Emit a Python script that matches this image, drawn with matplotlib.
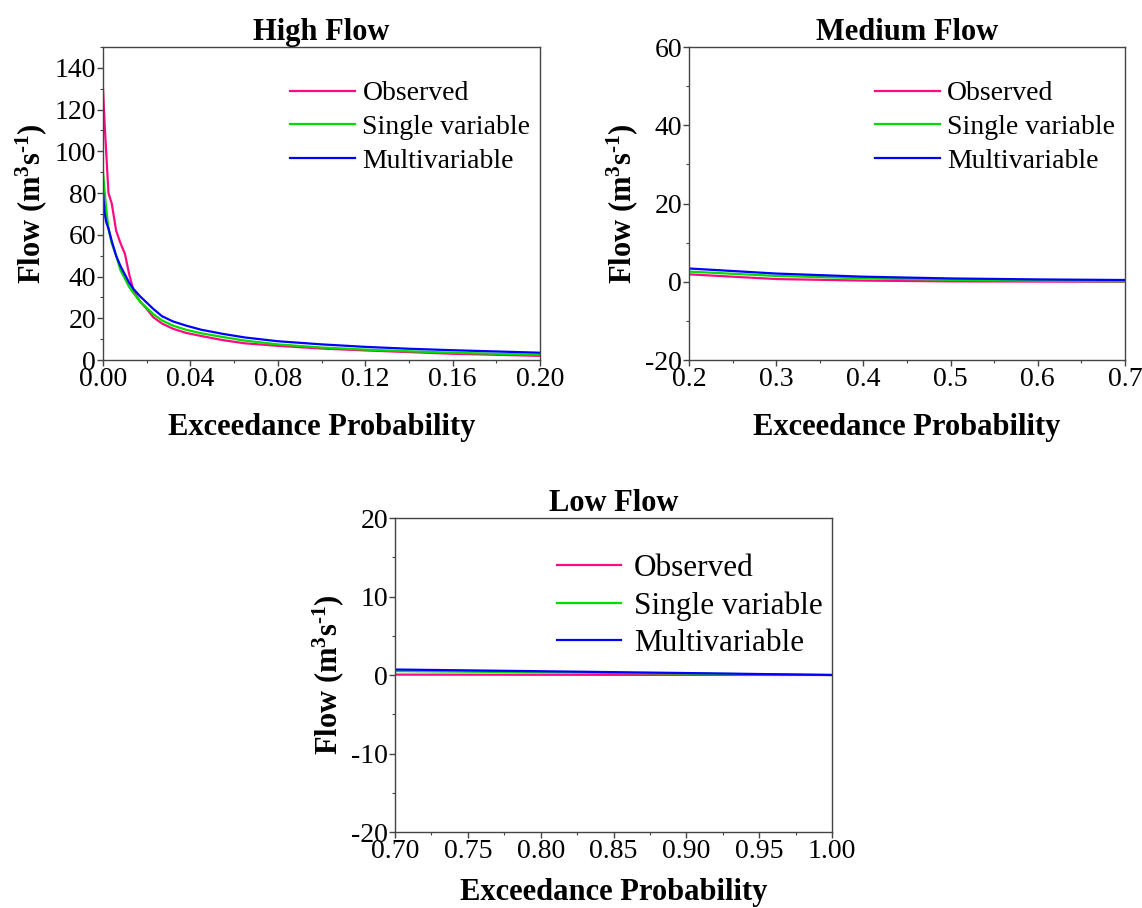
import matplotlib
matplotlib.use('Agg')
import matplotlib.pyplot as plt
import matplotlib.ticker as ticker

plt.rcParams['font.family'] = ['Liberation Serif', 'DejaVu Serif']
plt.rcParams['axes.unicode_minus'] = False
plt.rcParams['mathtext.fontset'] = 'custom'
plt.rcParams['mathtext.rm'] = 'Liberation Serif'
plt.rcParams['mathtext.bf'] = 'Liberation Serif:bold'

# high flow (exceedance 0 - 0.2)
high_p = [0, 0.0008, 0.0015, 0.0025, 0.004, 0.006, 0.008, 0.010, 0.012, 0.014,
          0.017, 0.020, 0.023, 0.027, 0.032, 0.038, 0.045, 0.055, 0.065, 0.08,
          0.10, 0.12, 0.14, 0.16, 0.18, 0.20]
high_obs = [130, 112, 99, 80, 75, 62, 56, 51, 41, 33, 28, 24.5, 20.5, 17.5, 15,
            13, 11.5, 9.5, 8, 6.8, 5.5, 4.6, 3.8, 3.0, 2.5, 2.0]
high_single = [90, 80, 72, 63, 56, 50, 43, 39, 35, 32, 28, 25, 22, 19, 16.5,
               14.5, 12.8, 11, 9.3, 7.5, 6.0, 5.0, 4.2, 3.5, 3.0, 2.5]
high_multi = [80, 70, 66, 63, 57, 50, 45, 41, 37, 34, 30.5, 27.5, 24.5, 21, 18.5,
              16.5, 14.5, 12.5, 10.8, 9.0, 7.5, 6.3, 5.4, 4.7, 4.1, 3.5]

# medium flow (0.2 - 0.7)
med_p = [0.2, 0.3, 0.4, 0.5, 0.6, 0.7]
med_obs = [1.9, 0.7, 0.3, 0.1, 0.05, 0.0]
med_single = [2.6, 1.5, 0.9, 0.5, 0.25, 0.1]
med_multi = [3.4, 2.1, 1.3, 0.85, 0.6, 0.45]

# low flow (0.7 - 1.0)
low_p = [0.7, 0.8, 0.9, 1.0]
low_obs = [0.05, 0.03, 0.01, 0.0]
low_single = [0.5, 0.35, 0.18, 0.0]
low_multi = [0.7, 0.48, 0.25, 0.0]

labels = ['Observed', 'Single variable', 'Multivariable']
colors = ['#ff0a82', '#00dd00', '#0000ff']

fig = plt.figure(figsize=(11.42, 9.08), dpi=100)
ax_h = fig.add_axes([0.0902, 0.6035, 0.3827, 0.3447])
ax_m = fig.add_axes([0.6033, 0.6035, 0.3818, 0.3447])
ax_l = fig.add_axes([0.3459, 0.0837, 0.3827, 0.3458])

# legend settings: font size, handle length, text pad, row spacing, anchor
leg_big = dict(fontsize=22.5, handlelength=2.05, handletextpad=0.42,
               labelspacing=0.27, bbox_to_anchor=(1.021, 0.945))
leg_std = dict(fontsize=20, handlelength=2.35, handletextpad=0.25,
               labelspacing=0.3, bbox_to_anchor=(1.016, 0.945))

panels = [
    (ax_h, 'High Flow', high_p, [high_obs, high_single, high_multi],
     (0, 0.2), 0.04, 0.02, '%.2f', (0, 150), 20, 10, leg_std, 15),
    (ax_m, 'Medium Flow', med_p, [med_obs, med_single, med_multi],
     (0.2, 0.7), 0.1, 0.05, '%.1f', (-20, 60), 20, 10, leg_std, 15),
    (ax_l, 'Low Flow', low_p, [low_obs, low_single, low_multi],
     (0.7, 1.0), 0.05, 0.025, '%.2f', (-20, 20), 10, 5, leg_big, 10),
]

for ax, title, p, series, xl, xmaj, xmin, xfmt, yl, ymaj, ymin, leg, xpad in panels:
    for vals, lab, c in zip(series, labels, colors):
        ax.plot(p, vals, color=c, lw=1.6, label=lab)
    ax.set_xlim(*xl)
    ax.set_ylim(*yl)
    ax.xaxis.set_major_locator(ticker.MultipleLocator(xmaj))
    ax.xaxis.set_minor_locator(ticker.MultipleLocator(xmin))
    ax.xaxis.set_major_formatter(ticker.FormatStrFormatter(xfmt))
    ax.yaxis.set_major_locator(ticker.MultipleLocator(ymaj))
    ax.yaxis.set_minor_locator(ticker.MultipleLocator(ymin))
    ax.yaxis.set_major_formatter(ticker.FormatStrFormatter('%d'))
    ax.tick_params(which='both', direction='out', labelsize=20, pad=1,
                   top=False, right=False, color='#444444')
    ax.tick_params(which='major', length=4, width=1)
    ax.tick_params(which='minor', length=2.5, width=0.8)
    for s in ax.spines.values():
        s.set_color('#444444')
        s.set_linewidth(1.0)
    ax.set_title(title, fontsize=22, fontweight='bold', pad=4)
    ax.set_xlabel('Exceedance Probability', fontsize=22, fontweight='bold',
                  labelpad=xpad)
    ax.set_ylabel('Flow (m$\\mathbf{^{3}}$s$\\mathbf{^{\u20101}}$)', fontsize=22,
                  fontweight='bold', labelpad=4)
    ax.legend(loc='upper right', frameon=False, borderaxespad=0.2, **leg)

fig.savefig('out.png', dpi=100)
